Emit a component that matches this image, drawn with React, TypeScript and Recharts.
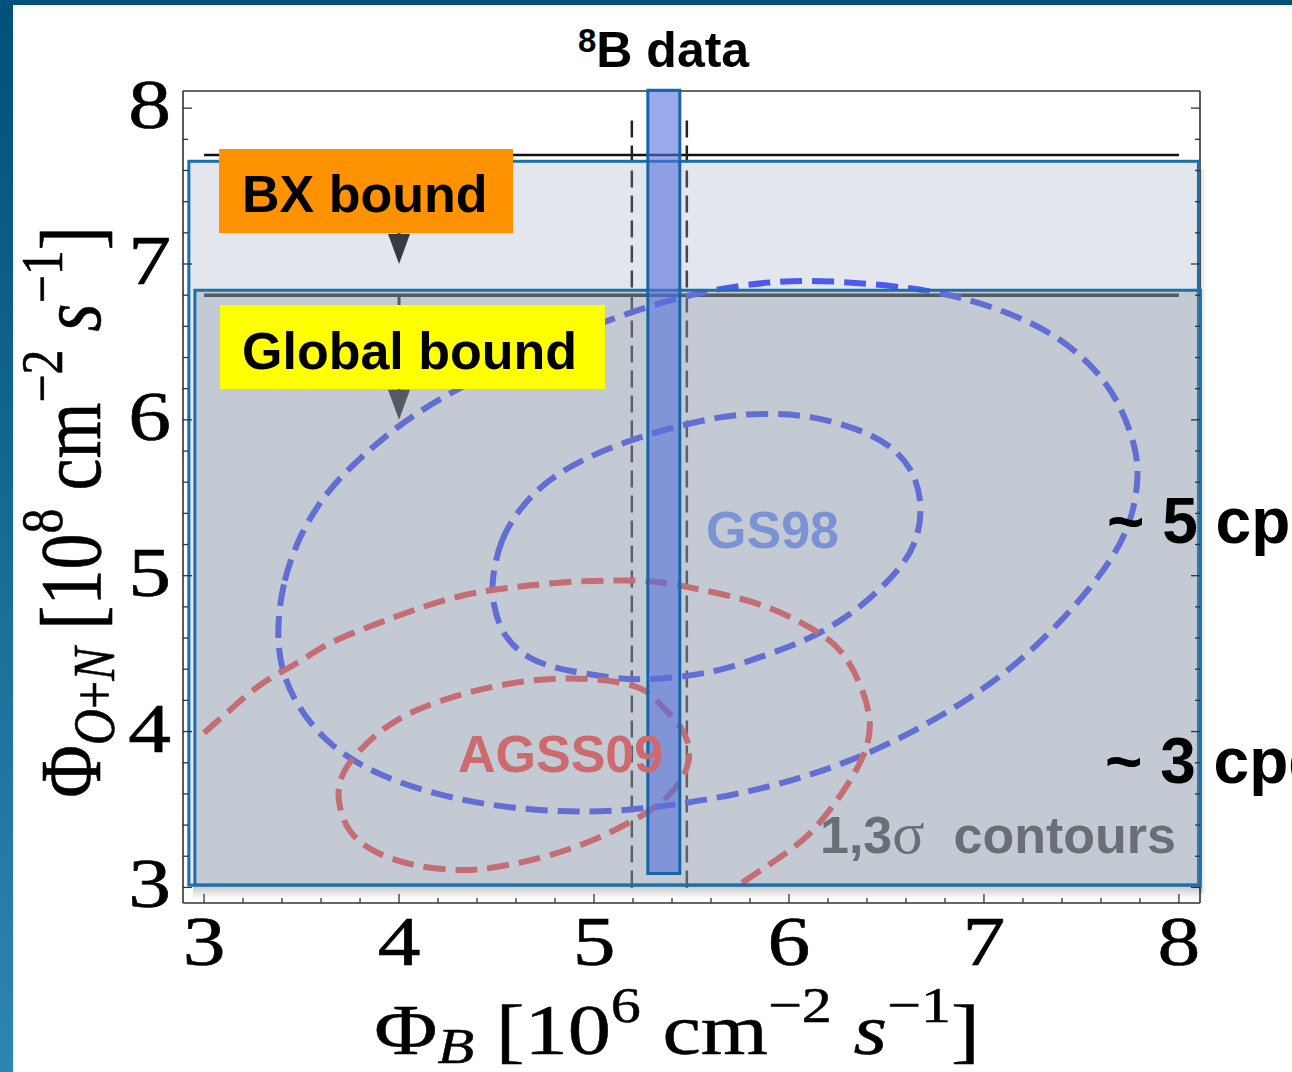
import React from 'react';
import {
  ComposedChart,
  XAxis,
  YAxis,
  Scatter,
  ReferenceArea,
  ReferenceLine,
  ReferenceDot,
} from 'recharts';

// ---------- axis ticks ----------
const xTicks = [3, 3.2, 3.4, 3.6, 3.8, 4, 4.2, 4.4, 4.6, 4.8, 5, 5.2, 5.4, 5.6, 5.8, 6, 6.2, 6.4, 6.6, 6.8, 7, 7.2, 7.4, 7.6, 7.8, 8];
const yTicks = [3, 3.2, 3.4, 3.6, 3.8, 4, 4.2, 4.4, 4.6, 4.8, 5, 5.2, 5.4, 5.6, 5.8, 6, 6.2, 6.4, 6.6, 6.8, 7, 7.2, 7.4, 7.6, 7.8, 8];
const xDomain = [2.892, 8.108];
const yDomain = [2.9, 8.11];

// ---------- contours ----------
const gs98Sigma3 = [
  { x: 3.374, y: 4.669 }, { x: 3.405, y: 4.969 }, { x: 3.492, y: 5.269 }, { x: 3.63, y: 5.544 },
  { x: 3.799, y: 5.756 }, { x: 4.004, y: 5.973 }, { x: 4.245, y: 6.165 }, { x: 4.583, y: 6.376 },
  { x: 5.095, y: 6.664 }, { x: 5.577, y: 6.836 }, { x: 5.915, y: 6.887 }, { x: 6.171, y: 6.9 },
  { x: 6.77, y: 6.836 }, { x: 7.114, y: 6.696 }, { x: 7.37, y: 6.549 }, { x: 7.59, y: 6.312 },
  { x: 7.708, y: 6.075 }, { x: 7.78, y: 5.82 }, { x: 7.795, y: 5.628 }, { x: 7.759, y: 5.353 },
  { x: 7.657, y: 5.097 }, { x: 7.452, y: 4.778 }, { x: 7.196, y: 4.458 }, { x: 6.94, y: 4.221 },
  { x: 6.683, y: 4.029 }, { x: 6.397, y: 3.85 }, { x: 6.089, y: 3.71 }, { x: 5.746, y: 3.595 },
  { x: 5.259, y: 3.499 }, { x: 4.926, y: 3.48 }, { x: 4.583, y: 3.505 }, { x: 4.245, y: 3.575 },
  { x: 3.902, y: 3.71 }, { x: 3.645, y: 3.902 }, { x: 3.476, y: 4.157 }, { x: 3.389, y: 4.413 },
];

const gs98Sigma1 = [
  { x: 4.475, y: 4.969 }, { x: 4.516, y: 5.225 }, { x: 4.619, y: 5.436 }, { x: 4.757, y: 5.609 },
  { x: 4.926, y: 5.737 }, { x: 5.131, y: 5.846 }, { x: 5.336, y: 5.929 }, { x: 5.659, y: 6.031 },
  { x: 5.915, y: 6.043 }, { x: 6.12, y: 6.024 }, { x: 6.345, y: 5.948 }, { x: 6.514, y: 5.846 },
  { x: 6.632, y: 5.692 }, { x: 6.683, y: 5.481 }, { x: 6.668, y: 5.27 }, { x: 6.601, y: 5.084 },
  { x: 6.427, y: 4.861 }, { x: 6.258, y: 4.701 }, { x: 6.089, y: 4.586 }, { x: 5.884, y: 4.49 },
  { x: 5.659, y: 4.394 }, { x: 5.454, y: 4.349 }, { x: 5.234, y: 4.33 }, { x: 5.095, y: 4.343 },
  { x: 4.839, y: 4.394 }, { x: 4.67, y: 4.458 }, { x: 4.532, y: 4.605 }, { x: 4.48, y: 4.822 },
];

const agss09Sigma3 = [
  { x: 3.0, y: 3.991 }, { x: 3.133, y: 4.138 }, { x: 3.302, y: 4.311 }, { x: 3.476, y: 4.439 },
  { x: 3.645, y: 4.566 }, { x: 3.866, y: 4.682 }, { x: 4.071, y: 4.777 }, { x: 4.327, y: 4.873 },
  { x: 4.583, y: 4.925 }, { x: 4.839, y: 4.957 }, { x: 5.095, y: 4.969 }, { x: 5.3, y: 4.963 },
  { x: 5.49, y: 4.925 }, { x: 5.746, y: 4.854 }, { x: 5.966, y: 4.758 }, { x: 6.156, y: 4.63 },
  { x: 6.273, y: 4.503 }, { x: 6.361, y: 4.311 }, { x: 6.412, y: 4.093 }, { x: 6.397, y: 3.902 },
  { x: 6.325, y: 3.71 }, { x: 6.222, y: 3.518 }, { x: 6.089, y: 3.326 }, { x: 5.915, y: 3.16 },
  { x: 5.73, y: 3.006 },
];

const agss09Sigma1 = [
  { x: 3.681, y: 3.563 }, { x: 3.697, y: 3.71 }, { x: 3.763, y: 3.838 }, { x: 3.902, y: 4.01 },
  { x: 4.071, y: 4.138 }, { x: 4.327, y: 4.247 }, { x: 4.583, y: 4.317 }, { x: 4.839, y: 4.349 },
  { x: 5.095, y: 4.33 }, { x: 5.269, y: 4.279 }, { x: 5.351, y: 4.157 }, { x: 5.454, y: 4.029 },
  { x: 5.5, y: 3.882 }, { x: 5.474, y: 3.735 }, { x: 5.403, y: 3.607 }, { x: 5.3, y: 3.499 },
  { x: 5.182, y: 3.416 }, { x: 5.013, y: 3.307 }, { x: 4.757, y: 3.192 }, { x: 4.501, y: 3.128 },
  { x: 4.327, y: 3.102 }, { x: 4.071, y: 3.134 }, { x: 3.866, y: 3.224 }, { x: 3.733, y: 3.352 },
];

// bounds on Phi(O+N): [value, arrow tip]
const bxBound = [7.7, 7.0];
const globalBound = [6.8, 6.0];
const boundX = [3, 8];
const arrowX = 4;
// highlighted regions [x1, x2, y1, y2]
const bxRegion = [2.922, 8.1, 3.015, 7.659];
const globalRegion = [2.953, 8.11, 3.015, 6.832];
// 8B measurement: band and error lines
const b8Band = [5.276, 5.44, 3.09, 8.115];
const b8Lines = [5.194, 5.476];
const b8LineY = [3.0, 7.95];

// ---------- styles ----------
const SERIF = '"Liberation Serif", "Times New Roman", Times, serif';
const SANS = '"Liberation Sans", Arial, Helvetica, sans-serif';
const FRAME = '#333';
const BLUE = '#2f3cff';
const RED = '#ff3a35';
const SX = 1.24;
const DASH = '22 10';

const isMajor = (v: number) => Math.abs(v - Math.round(v)) < 1e-6;

const BottomTick = (p: any) => {
  const { x, y, payload } = p;
  const v = payload.value;
  const m = isMajor(v);
  return (
    <g>
      <line x1={x} x2={x} y1={y} y2={y - (m ? 9 : 5)} stroke={FRAME} strokeWidth={1.3} />
      {m && (
        <text transform={`translate(${x},${y + 62}) scale(${SX},1)`} textAnchor="middle" fontSize={69} fontFamily={SERIF}
          fill="#000" stroke="#000" strokeWidth={0.6}>
          {Math.round(v)}
        </text>
      )}
    </g>
  );
};
const TopTick = (p: any) => {
  const { x, y, payload } = p;
  const m = isMajor(payload.value);
  return <line x1={x} x2={x} y1={y} y2={y + (m ? 9 : 5)} stroke={FRAME} strokeWidth={1.3} />;
};
const LeftTick = (p: any) => {
  const { x, y, payload } = p;
  const v = payload.value;
  const m = isMajor(v);
  return (
    <g>
      <line x1={x} x2={x + (m ? 9 : 5)} y1={y} y2={y} stroke={FRAME} strokeWidth={1.3} />
      {m && (
        <text transform={`translate(${x - 12},${y + 20}) scale(${SX},1)`} textAnchor="end" fontSize={69} fontFamily={SERIF}
          fill="#000" stroke="#000" strokeWidth={0.6}>
          {Math.round(v)}
        </text>
      )}
    </g>
  );
};
const RightTick = (p: any) => {
  const { x, y, payload } = p;
  const m = isMajor(payload.value);
  return <line x1={x} x2={x - (m ? 9 : 5)} y1={y} y2={y} stroke={FRAME} strokeWidth={1.3} />;
};

const noShape = () => <g />;

const Arrow = (color: string) => (p: any) => {
  const { cx, cy } = p;
  return <polygon points={`${cx - 11},${cy - 30} ${cx + 11},${cy - 30} ${cx},${cy}`} fill={color} />;
};

// region box with a soft drop shadow below / right of it
const ShadowBox = (p: any) => {
  const { x, y, width, height, fill, fillOpacity, stroke, strokeWidth } = p;
  return (
    <g>
      <rect x={x + 4} y={y + height + 1} width={width} height={13} fill="url(#shadowDown)" />
      <rect x={x + width + 1} y={y + 8} width={7} height={height} fill="url(#shadowRight)" />
      <rect x={x} y={y} width={width} height={height} fill={fill} fillOpacity={fillOpacity} stroke={stroke} strokeWidth={strokeWidth} />
    </g>
  );
};

const axisLine = { stroke: FRAME, strokeWidth: 1.6 };

export default function App() {
  const sup = 50;
  return (
    <div style={{ position: 'absolute', left: 0, top: 0, width: 1292, height: 1072, overflow: 'hidden', background: '#fff' }}>
      <svg width={0} height={0} style={{ position: 'absolute' }}>
        <defs>
          <linearGradient id="shadowDown" x1="0" y1="0" x2="0" y2="1">
            <stop offset="0" stopColor="#000" stopOpacity={0.22} />
            <stop offset="1" stopColor="#000" stopOpacity={0} />
          </linearGradient>
          <linearGradient id="shadowRight" x1="0" y1="0" x2="1" y2="0">
            <stop offset="0" stopColor="#000" stopOpacity={0.15} />
            <stop offset="1" stopColor="#000" stopOpacity={0} />
          </linearGradient>
        </defs>
      </svg>
      <ComposedChart width={1292} height={1072} margin={{ top: 90, right: 91, bottom: 168, left: 182 }}>
        <XAxis dataKey="x" type="number" domain={xDomain} ticks={xTicks} interval={0} height={1} tickSize={0} tickMargin={0}
          tickLine={false} axisLine={axisLine} tick={BottomTick} allowDataOverflow />
        <XAxis xAxisId="top" orientation="top" type="number" domain={xDomain} ticks={xTicks} interval={0} height={1} tickSize={0}
          tickMargin={0} tickLine={false} axisLine={axisLine} tick={TopTick} allowDataOverflow />
        <YAxis dataKey="y" type="number" domain={yDomain} ticks={yTicks} interval={0} width={1} tickSize={0} tickMargin={0}
          tickLine={false} axisLine={axisLine} tick={LeftTick} allowDataOverflow />
        <YAxis yAxisId="right" orientation="right" type="number" domain={yDomain} ticks={yTicks} interval={0} width={1} tickSize={0}
          tickMargin={0} tickLine={false} axisLine={axisLine} tick={RightTick} allowDataOverflow />

        <ReferenceLine segment={[{ x: boundX[0], y: bxBound[0] }, { x: boundX[1], y: bxBound[0] }]} stroke="#111" strokeWidth={2.5} ifOverflow="visible" />
        <ReferenceLine segment={[{ x: boundX[0], y: globalBound[0] }, { x: boundX[1], y: globalBound[0] }]} stroke="#111" strokeWidth={3.5} ifOverflow="visible" />
        <ReferenceLine segment={[{ x: arrowX, y: bxBound[0] }, { x: arrowX, y: bxBound[1] + 0.1 }]} stroke="#111" strokeWidth={3} />
        <ReferenceLine segment={[{ x: arrowX, y: globalBound[0] }, { x: arrowX, y: globalBound[1] + 0.1 }]} stroke="#111" strokeWidth={3} />
        <ReferenceDot x={arrowX} y={bxBound[1]} r={1} shape={Arrow('#111')} />
        <ReferenceDot x={arrowX} y={globalBound[1]} r={1} shape={Arrow('#111')} />
        <ReferenceLine segment={[{ x: b8Lines[0], y: b8LineY[0] }, { x: b8Lines[0], y: b8LineY[1] }]} stroke="#222" strokeWidth={2.5} strokeDasharray="17 8" />
        <ReferenceLine segment={[{ x: b8Lines[1], y: b8LineY[0] }, { x: b8Lines[1], y: b8LineY[1] }]} stroke="#222" strokeWidth={2.5} strokeDasharray="17 8" />

        <Scatter data={gs98Sigma3} fill="none" shape={noShape} lineJointType="basisClosed"
          line={{ stroke: BLUE, strokeWidth: 6, strokeDasharray: DASH, fill: 'none' }} isAnimationActive={false} />
        <Scatter data={gs98Sigma1} fill="none" shape={noShape} lineJointType="basisClosed"
          line={{ stroke: BLUE, strokeWidth: 6, strokeDasharray: DASH, fill: 'none' }} isAnimationActive={false} />
        <Scatter data={agss09Sigma3} fill="none" shape={noShape} lineJointType="natural"
          line={{ stroke: RED, strokeWidth: 6, strokeDasharray: DASH, fill: 'none' }} isAnimationActive={false} />
        <Scatter data={agss09Sigma1} fill="none" shape={noShape} lineJointType="basisClosed"
          line={{ stroke: RED, strokeWidth: 6, strokeDasharray: DASH, fill: 'none' }} isAnimationActive={false} />

        <ReferenceArea x1={bxRegion[0]} x2={bxRegion[1]} y1={bxRegion[2]} y2={bxRegion[3]} ifOverflow="visible"
          fill="#9aa8bd" fillOpacity={0.28} stroke="#1a6fad" strokeWidth={3} zIndex={1500} shape={ShadowBox} />
        <ReferenceArea x1={globalRegion[0]} x2={globalRegion[1]} y1={globalRegion[2]} y2={globalRegion[3]} ifOverflow="visible"
          fill="#8a96a3" fillOpacity={0.35} stroke="#1a6fad" strokeWidth={3} zIndex={1510} />
        <ReferenceArea x1={b8Band[0]} x2={b8Band[1]} y1={b8Band[2]} y2={b8Band[3]} ifOverflow="visible"
          fill="#5570dc" fillOpacity={0.6} stroke="#1565a8" strokeWidth={3} zIndex={1520} />
      </ComposedChart>

      <svg width={1292} height={1072} style={{ position: 'absolute', left: 0, top: 0, pointerEvents: 'none' }}>
        <defs>
          <linearGradient id="edge" x1="0" y1="0" x2="0" y2="1">
            <stop offset="0" stopColor="#00507a" />
            <stop offset="1" stopColor="#2d85b2" />
          </linearGradient>
        </defs>
        <rect x={0} y={0} width={13} height={1072} fill="url(#edge)" />
        <rect x={0} y={0} width={1292} height={5} fill="#01527b" />

        {/* title */}
        <text x={578} y={67} fontFamily={SANS} fontWeight="bold" fontSize={50} fill="#000">
          <tspan fontSize={33} dy={-15}>8</tspan>
          <tspan dy={15}>B data</tspan>
        </text>

        {/* bound labels */}
        <rect x={219} y={149} width={294} height={84} fill="#ff9200" />
        <text x={242} y={212} fontFamily={SANS} fontWeight="bold" fontSize={52} fill="#000">BX bound</text>
        <rect x={220} y={305} width={385} height={84} fill="#ffff00" />
        <text x={242} y={369} fontFamily={SANS} fontWeight="bold" fontSize={52} fill="#000">Global bound</text>

        <text x={706} y={548} fontFamily={SANS} fontWeight="bold" fontSize={52} fill="#7b93d4">GS98</text>
        <text x={458} y={772} fontFamily={SANS} fontWeight="bold" fontSize={52} fill="#cc6a6e">AGSS09</text>
        <text x={820} y={853} fontFamily={SANS} fontWeight="bold" fontSize={52} fill="#6a6e76" style={{ whiteSpace: 'pre' }}>
          {'1,3'}
          <tspan fontFamily={SERIF} fontWeight="normal" fontSize={60}>σ</tspan>
          {'  contours'}
        </text>
        <text x={1107} y={543} fontFamily={SANS} fontWeight="bold" fontSize={64} fill="#000" style={{ whiteSpace: 'pre' }}>{'~ 5 cpd'}</text>
        <text x={1105} y={783} fontFamily={SANS} fontWeight="bold" fontSize={64} fill="#000" style={{ whiteSpace: 'pre' }}>{'~ 3 cpd'}</text>

        {/* axis titles */}
        <text transform={`translate(677,1054) scale(1.2,1)`} textAnchor="middle" fontFamily={SERIF} fontSize={72} fill="#000"
          stroke="#000" strokeWidth={0.5} style={{ whiteSpace: 'pre' }}>
          <tspan>Φ</tspan>
          <tspan fontSize={sup} fontStyle="italic" dy={9}>B</tspan>
          <tspan dy={-9}>{' [10'}</tspan>
          <tspan fontSize={sup} dy={-32}>6</tspan>
          <tspan dy={32}>{' cm'}</tspan>
          <tspan fontSize={sup} dy={-32}>−2</tspan>
          <tspan dy={32}>{' '}</tspan>
          <tspan fontStyle="italic">s</tspan>
          <tspan fontSize={sup} dy={-32}>−1</tspan>
          <tspan dy={32}>]</tspan>
        </text>
        <text transform={`translate(100,512) scale(1.2,1) rotate(-90)`} textAnchor="middle" fontFamily={SERIF} fontSize={72} fill="#000"
          stroke="#000" strokeWidth={0.5} style={{ whiteSpace: 'pre' }}>
          <tspan>Φ</tspan>
          <tspan fontSize={sup} fontStyle="italic" dy={12}>O</tspan>
          <tspan fontSize={sup}>+</tspan>
          <tspan fontSize={sup} fontStyle="italic">N</tspan>
          <tspan dy={-12}>{' [10'}</tspan>
          <tspan fontSize={sup} dy={-32}>8</tspan>
          <tspan dy={32}>{' cm'}</tspan>
          <tspan fontSize={sup} dy={-32}>−2</tspan>
          <tspan dy={32}>{' '}</tspan>
          <tspan fontStyle="italic">s</tspan>
          <tspan fontSize={sup} dy={-32}>−1</tspan>
          <tspan dy={32}>]</tspan>
        </text>
      </svg>
    </div>
  );
}
